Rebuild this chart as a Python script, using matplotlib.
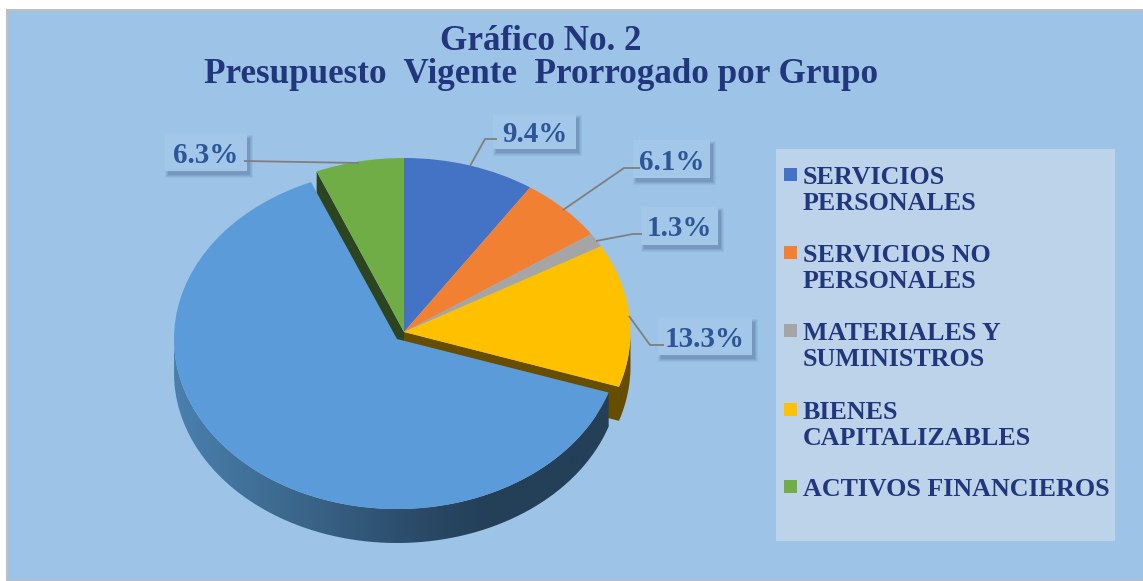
import numpy as np
import matplotlib
matplotlib.use('Agg')
import matplotlib.pyplot as plt
from matplotlib.colors import LinearSegmentedColormap
from matplotlib.patches import Polygon, Rectangle
from matplotlib.transforms import Affine2D

W, H = 1143, 581

# chart values
values = [9.4, 6.1, 1.3, 13.3, 63.6, 6.3]
colors = ['#4472C4', '#F28033', '#A5A5A5', '#FFC000', '#5B9BD9', '#70AD47']
label_idx = [0, 1, 2, 3, 5]
legend_names = ['SERVICIOS\nPERSONALES', 'SERVICIOS NO\nPERSONALES', 'MATERIALES Y\nSUMINISTROS',
                'BIENES\nCAPITALIZABLES', 'ACTIVOS FINANCIEROS']
title_lines = ['Gráfico No. 2', 'Presupuesto  Vigente  Prorrogado por Grupo']

# label boxes (left, top, right, bottom) and leader lines, in pixels
label_boxes = {0: (493, 114, 576, 149), 1: (633, 140, 710, 178), 2: (641, 207, 718, 245),
               3: (658, 318, 752, 355), 5: (165, 134, 247, 171)}
leaders = {0: [(470, 166), (485, 139), (497, 139)], 1: [(563, 210), (624, 168), (640, 168)],
           2: [(596, 241), (633, 234), (642, 234)], 3: [(629, 316), (650, 345), (664, 345)],
           5: [(359, 163), (244, 161)]}
legend_y = [175, 253, 331, 410, 487]

BG = '#9DC3E6'
TITLE = '#22367E'
LABEL = '#2F5597'
FONT = 'Liberation Serif'

# pie geometry in pixels
cx, cy, rx, ry = 404, 332, 226.5, 174
big_cx, big_cy, big_rx, big_ry = 397, 339, 223, 170
depth = 34

fig = plt.figure(figsize=(W / 100, H / 100), dpi=100, facecolor='white')
fig.patches.append(Rectangle((7 / W, 0), 1, 1 - 10 / H, transform=fig.transFigure,
                             facecolor=BG, edgecolor='#BFBFBF', linewidth=1.5, zorder=-1))

ax = fig.add_axes([0, 0, 1, 1])
wedges, _ = ax.pie(values, colors=colors, startangle=90, counterclock=False,
                   wedgeprops=dict(linewidth=0))
ax.set_aspect('auto')
xlim = (-cx / rx, (W - cx) / rx)
ylim = ((cy - H) / ry, cy / ry)
ax.set_xlim(xlim)
ax.set_ylim(ylim)
ax.set_frame_on(False)

d = depth / ry
big = wedges[4]
yellow = wedges[3]
green = wedges[5]
sx, sy = big_rx / rx, big_ry / ry
ox, oy = (big_cx - cx) / rx, (cy - big_cy) / ry
big_tf = Affine2D().scale(sx, sy).translate(ox, oy)
big.set_transform(big_tf + ax.transData)


def rim(theta1, theta2, scale_x=1, scale_y=1, off_x=0, off_y=0):
    t = np.deg2rad(np.linspace(theta1, theta2, 80))
    x = off_x + scale_x * np.cos(t)
    y = off_y + scale_y * np.sin(t)
    return np.r_[np.c_[x, y], np.c_[x, y - d][::-1]]


def radial_side(theta):
    t = np.deg2rad(theta)
    x, y = np.cos(t), np.sin(t)
    return [(0, 0), (x, y), (x, y - d), (0, -d)]


# sides under the top faces
ax.add_patch(Polygon(radial_side(green.theta2), facecolor='#2C4520', linewidth=0, zorder=0.5))
ax.add_patch(Polygon(radial_side(yellow.theta1), facecolor='#664D00', linewidth=0, zorder=0.6))
ax.add_patch(Polygon(rim(yellow.theta1, 0), facecolor='#664D00', linewidth=0, zorder=0.6))

big_rim = Polygon(rim(-180, big.theta2, sx, sy, ox, oy), facecolor='none', linewidth=0,
                  transform=ax.transData)
ax.add_patch(big_rim)
shade = LinearSegmentedColormap.from_list('rim', [(0, '#4A80AE'), (0.3, '#3A6488'),
                                                  (0.55, '#2A4A68'), (0.7, '#243F58'), (1, '#243F58')])
img = ax.imshow(np.linspace(0, 1, 256)[None, :], cmap=shade, aspect='auto', zorder=0.8,
                extent=(ox - sx, ox + sx, oy - sy - d, oy + 0.5))
img.set_clip_path(big_rim)
ax.set_xlim(xlim)
ax.set_ylim(ylim)

big.set_zorder(1)
for i, w in enumerate(wedges):
    if i != 4:
        w.set_zorder(1.2)

# overlay in pixel coordinates
top = fig.add_axes([0, 0, 1, 1])
top.set_xlim(0, W)
top.set_ylim(H, 0)
top.axis('off')

for line, y in zip(title_lines, [50, 83]):
    top.text(541, y, line, ha='center', va='baseline', color=TITLE, fontsize=25.2,
             fontweight='bold', family=FONT)

for i in label_idx:
    x0, y0, x1, y1 = label_boxes[i]
    for grow, alpha in [(3, 0.05), (2, 0.07), (1, 0.09), (0, 0.12)]:
        top.add_patch(Rectangle((x0 + 3 - grow, y0 + 4 - grow), x1 - x0 + 2 * grow, y1 - y0 + 2 * grow,
                                facecolor='#1F3864', alpha=alpha, linewidth=0, zorder=3))
    top.add_patch(Rectangle((x0, y0), x1 - x0, y1 - y0, facecolor='#A3C7E9', linewidth=0, zorder=3.1))
    pts = np.array(leaders[i])
    top.plot(pts[:, 0], pts[:, 1], color='#7F7F7F', lw=1.3, zorder=3.2, solid_capstyle='butt')
    top.text((x0 + x1) / 2, (y0 + y1) / 2 + 3, f'{values[i]:.1f}%', ha='center', va='center',
             color=LABEL, fontsize=21, fontweight='bold', family=FONT, zorder=3.3)

# legend
top.add_patch(Rectangle((776, 149), 339, 392, facecolor='#BCD3EA', linewidth=0, zorder=2))
for i, name, y in zip(label_idx, legend_names, legend_y):
    top.add_patch(Rectangle((784, y - 7), 13, 13, facecolor=colors[i], linewidth=0, zorder=2.1))
    top.text(803, y - 9, name, ha='left', va='top', color=TITLE, fontsize=18.7, fontweight='bold',
             family=FONT, linespacing=1.17, zorder=2.2)

fig.savefig('out.png', dpi=100, facecolor='white')
